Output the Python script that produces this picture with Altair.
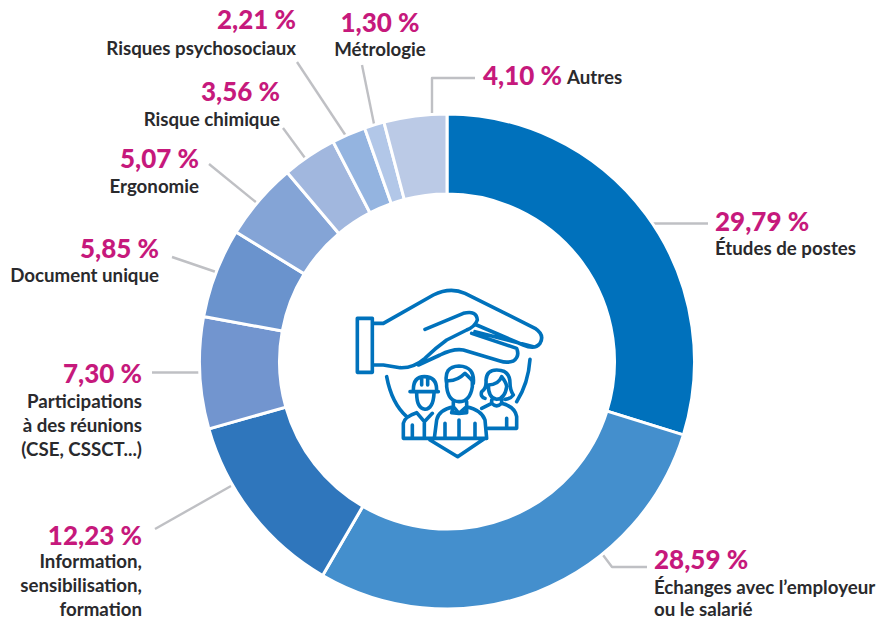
import altair as alt
import pandas as pd

# ---- chart values ----
CATEGORIES = ["Études de postes", "Échanges avec l’employeur ou le salarié",
              "Information, sensibilisation, formation",
              "Participations à des réunions (CSE, CSSCT...)", "Document unique",
              "Ergonomie", "Risque chimique", "Risques psychosociaux", "Métrologie", "Autres"]
VALUES = [29.79, 28.59, 12.23, 7.30, 5.85, 5.07, 3.56, 2.21, 1.30, 4.10]
COLORS = ["#0071bc", "#448fcd", "#2f76bc", "#7295cf", "#6a93cd",
          "#84a4d6", "#a1b7de", "#94b4e0", "#b2c7e8", "#bbcae6"]
LINES = [["Études de postes"], ["Échanges avec l’employeur", "ou le salarié"],
         ["Information,", "sensibilisation,", "formation"],
         ["Participations", "à des réunions", "(CSE, CSSCT...)"], ["Document unique"],
         ["Ergonomie"], ["Risque chimique"], ["Risques psychosociaux"], ["Métrologie"]]

OX, OY = 8, 8  # page margin
CX, CY = 447, 361.5

# ---- annotation layout: anchor x, align, percent baseline, label line baselines (page px)
LAYOUT = [
    (715, "left", 231, [255]),
    (654, "left", 569, [594, 616]),
    (142, "right", 545, [568, 592, 616]),
    (142, "right", 383, [408, 432, 456]),
    (159, "right", 258, [282]),
    (199, "right", 168, [193]),
    (280, "right", 101, [126]),
    (296, "right", 29, [54.5]),
    (380, "center", 32, [56]),
]
LEADERS = [
    [(652, 223.5), (708, 223.5)],
    [(603, 555), (612, 567), (647, 567)],
    [(155, 529), (231, 486)],
    [(152, 372.5), (199, 372.5)],
    [(172, 257), (216, 272)],
    [(209, 164), (257, 203)],
    [(283, 128), (305, 158)],
    [(297, 62), (346, 136)],
    [(362, 65), (374, 124)],
    [(432, 115), (432, 78), (475, 78)],
]

ICON = ("M82,145H127V307H82Z "
        "M132,160L160,160L310,75Q360,50 405,70L615,175Q645,195 630,220Q615,240 580,225L440,165 "
        "M435,185L610,230 "
        "M285,178L400,130Q440,120 442,150Q435,170 410,180L350,210Q315,235 285,265Q250,295 210,293L160,285L132,285 "
        "M425,190L560,235Q570,260 550,273Q530,280 510,273L400,240Q370,235 330,255L265,285 "
        "M170,320Q185,400 230,440 M600,268Q595,340 560,395 M300,510L383,560L465,505 "
        "M240,365H325 M250,360Q250,320 283,320Q320,320 320,360 M275,325V345 M293,325V345 "
        "M260,370Q260,415 285,418Q310,415 312,370 "
        "M315,505H220V460Q223,440 260,428L283,455L307,430 M283,455V505 M247,465V505 "
        "M350,340Q340,290 387,288Q435,290 430,340 "
        "M350,332Q380,335 405,310Q427,330 427,335V350Q420,395 387,395Q355,395 350,350Z "
        "M313,505L320,450Q325,420 370,410L387,430L410,410Q455,420 465,450L470,505Z "
        "M370,395V410 M410,395V410 M370,410L365,428L387,430L410,428L410,410 "
        "M345,460V505 M435,460V505 M387,450V505 "
        "M465,385Q450,380 455,365Q470,355 468,330Q470,300 500,300Q540,300 540,340Q540,360 550,375Q540,388 525,388 "
        "M475,345Q505,345 515,320Q530,340 530,350Q525,385 500,388Q475,385 475,345 "
        "M485,390V400L455,415 M515,390V400Q555,410 560,440V475H475 M485,400Q500,415 515,400 M530,445V475")

# ---- tables ----
df = pd.DataFrame({"cat": CATEGORIES, "value": VALUES, "idx": range(len(VALUES))})

def fmt(v):
    return f"{v:.2f}".replace(".", ",") + " %"

pct_rows, lab_rows = [], []
for v, lines, (x, al, by, lbs) in zip(VALUES, LINES, LAYOUT):
    pct_rows.append({"x": x - OX, "y": by - OY, "t": fmt(v), "al": al})
    for t, ly in zip(lines, lbs):
        lab_rows.append({"x": x - OX, "y": ly - OY, "t": t, "al": al})
# Autres sits on one line
pct_rows.append({"x": 483 - OX, "y": 84.5 - OY, "t": fmt(VALUES[9]), "al": "left"})
lab_rows.append({"x": 567 - OX, "y": 84 - OY, "t": "Autres", "al": "left"})
pct = pd.DataFrame(pct_rows)
lab = pd.DataFrame(lab_rows)

lead = pd.DataFrame([{"id": i, "o": j, "x": p[0] - OX, "y": p[1] - OY}
                     for i, pts in enumerate(LEADERS) for j, p in enumerate(pts)])

arc = alt.Chart(df).mark_arc(innerRadius=167.5, outerRadius=247.5, stroke="white", strokeWidth=3).encode(
    theta=alt.Theta("value:Q", stack=True),
    order=alt.Order("idx:Q"),
    color=alt.Color("cat:N", scale=alt.Scale(domain=CATEGORIES, range=COLORS), legend=None),
    x=alt.value(CX - OX), y=alt.value(CY - OY),
)

leaders = alt.Chart(lead).mark_line(color="#bfc0c4", strokeWidth=2.4, strokeJoin="round").encode(
    x=alt.X("x:Q", scale=None, axis=None), y=alt.Y("y:Q", scale=None, axis=None),
    detail="id:N", order="o:Q",
)

def text_layer(data, align, size, weight, color):
    return alt.Chart(data[data["al"] == align]).mark_text(
        align=align, baseline="alphabetic", font="Lato", fontSize=size, fontWeight=weight, color=color,
    ).encode(x=alt.X("x:Q", scale=None, axis=None), y=alt.Y("y:Q", scale=None, axis=None), text="t:N")

texts = []
for al in ["left", "right", "center"]:
    texts.append(text_layer(pct, al, 26, 900, "#c6197c"))
    texts.append(text_layer(lab, al, 18.7, 700, "#2a2a2d"))

icon = alt.Chart(pd.DataFrame({"a": [0]})).mark_point(
    shape=ICON, filled=False, stroke="#0072bc", strokeWidth=3.6, size=4 / 9, opacity=1,
    strokeJoin="round", strokeCap="round",
).encode(x=alt.value(330 - OX), y=alt.value(270 - OY))

chart = alt.layer(leaders, arc, icon, *texts).properties(
    width=876, height=611, padding=0, autosize=alt.AutoSizeParams(type="none"),
).configure_view(stroke=None)

chart.save("out.html", embed_options={"renderer": "svg", "actions": False})
